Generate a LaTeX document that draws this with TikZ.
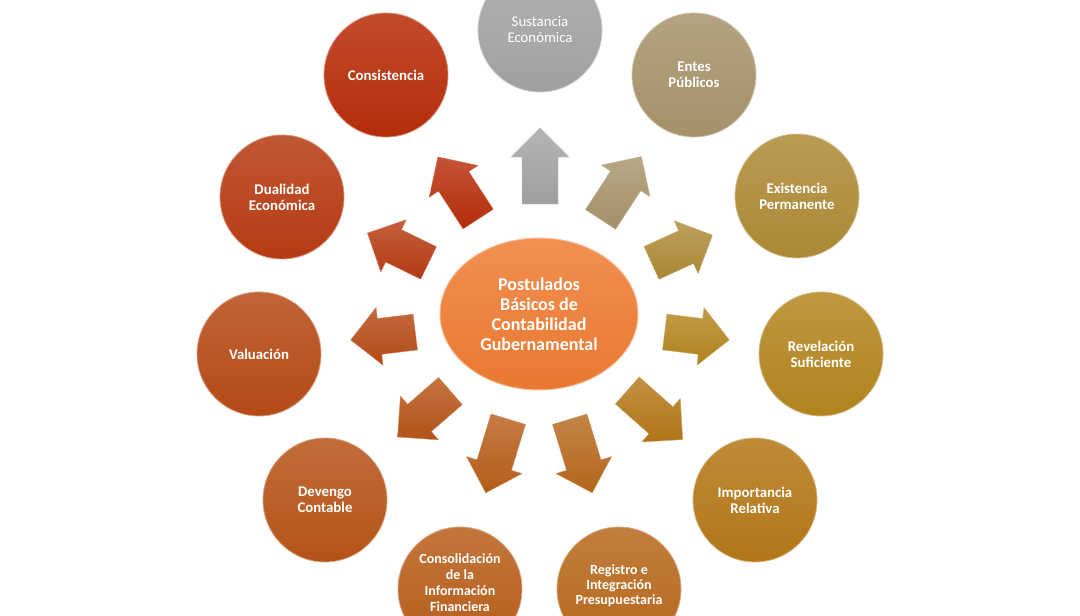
\documentclass[tikz,border=0pt]{standalone}
\usepackage{fontspec}
\setmainfont{Carlito}
\usetikzlibrary{shapes.geometric}
\definecolor{cSus}{HTML}{A4A4A4}
\definecolor{cEnt}{HTML}{A8946C}
\definecolor{cExi}{HTML}{AF8B37}
\definecolor{cRev}{HTML}{B4861F}
\definecolor{cImp}{HTML}{B57818}
\definecolor{cReg}{HTML}{B8691D}
\definecolor{cCon}{HTML}{B85F1B}
\definecolor{cDev}{HTML}{B85519}
\definecolor{cVal}{HTML}{B84B16}
\definecolor{cDua}{HTML}{B83C13}
\definecolor{cCns}{HTML}{B82E0A}
\definecolor{cCen}{HTML}{F07C32}
\tikzset{
  ball/.style={circle, minimum size=124pt, inner sep=0pt, align=center,
    text=white, font=\bfseries\fontsize{14.8}{16}\selectfont,
    top color=#1!86!white, bottom color=#1!98!black, draw=#1!55!white, line width=0.8pt},
  hub/.style={ellipse, minimum width=198pt, minimum height=152pt, inner sep=0pt, align=center,
    text=white, font=\bfseries\fontsize{18}{20}\selectfont,
    top color=#1!85!white, bottom color=#1!97!black, draw=#1!50!white, line width=1pt},
  arr/.style={top color=#1!82!white, bottom color=#1!97!black, draw=#1!70!white, line width=0.4pt},
  lbl/.style={text=white, align=center, font=\bfseries\fontsize{14.8}{16}\selectfont}
}
\newcommand\barrow[5]{%
  \path[arr=#5, shift={(#1,#2)}, rotate=#3]
    ({-#4/2},-18) -- ({#4/2-29},-18) -- ({#4/2-29},-29) -- ({#4/2},0)
    -- ({#4/2-29},29) -- ({#4/2-29},18) -- ({-#4/2},18) -- cycle;}
\begin{document}
\begin{tikzpicture}[x=1pt,y=-1pt]
\useasboundingbox (0,0) rectangle (1080,616);
\clip (0,0) rectangle (1080,616);
% arrows
\barrow{540}{166}{90}{76}{cSus}
\barrow{621}{188}{57}{75}{cEnt}
\barrow{682}{249}{24.5}{67}{cExi}
\barrow{697}{336}{-7}{65}{cRev}
\barrow{655}{415}{-41.5}{74}{cImp}
\barrow{581}{456}{-73}{77}{cReg}
\barrow{497}{456}{-107}{77}{cCon}
\barrow{424}{414}{-139}{70}{cDev}
\barrow{383}{336}{187}{65}{cVal}
\barrow{398}{248}{154}{68}{cDua}
\barrow{458}{188}{123}{74}{cCns}
% hub
\node[hub=cCen] (hub) at (539,314) {Postulados\\Básicos de\\Contabilidad\\Gubernamental};
% circles
\node[ball=cSus] (sus) at (540,30) {};
\node[lbl, font=\fontsize{14.8}{16}\selectfont] (sust) at (540,29) {Sustancia\\Económica};
\node[ball=cEnt] (ent) at (694,75) {Entes\\Públicos};
\node[ball=cExi] (exi) at (797,196) {Existencia\\Permanente};
\node[ball=cRev] (rev) at (821,354) {Revelación\\Suficiente};
\node[ball=cImp] (imp) at (755,500) {Importancia\\Relativa};
\node[ball=cReg] (reg) at (619,589) {};
\node[lbl, font=\bfseries\fontsize{14}{15}\selectfont] (regt) at (619,586) {Registro e\\Integración\\Presupuestaria};
\node[ball=cCon] (con) at (460,589) {};
\node[lbl, font=\bfseries\fontsize{14}{16}\selectfont] (cont) at (460,583) {Consolidación\\de la\\Información\\Financiera};
\node[ball=cDev] (dev) at (325,500) {Devengo\\Contable};
\node[ball=cVal] (val) at (259,354) {Valuación};
\node[ball=cDua] (dua) at (282,197) {Dualidad\\Económica};
\node[ball=cCns] (cns) at (386,75) {Consistencia};
\end{tikzpicture}
\end{document}
